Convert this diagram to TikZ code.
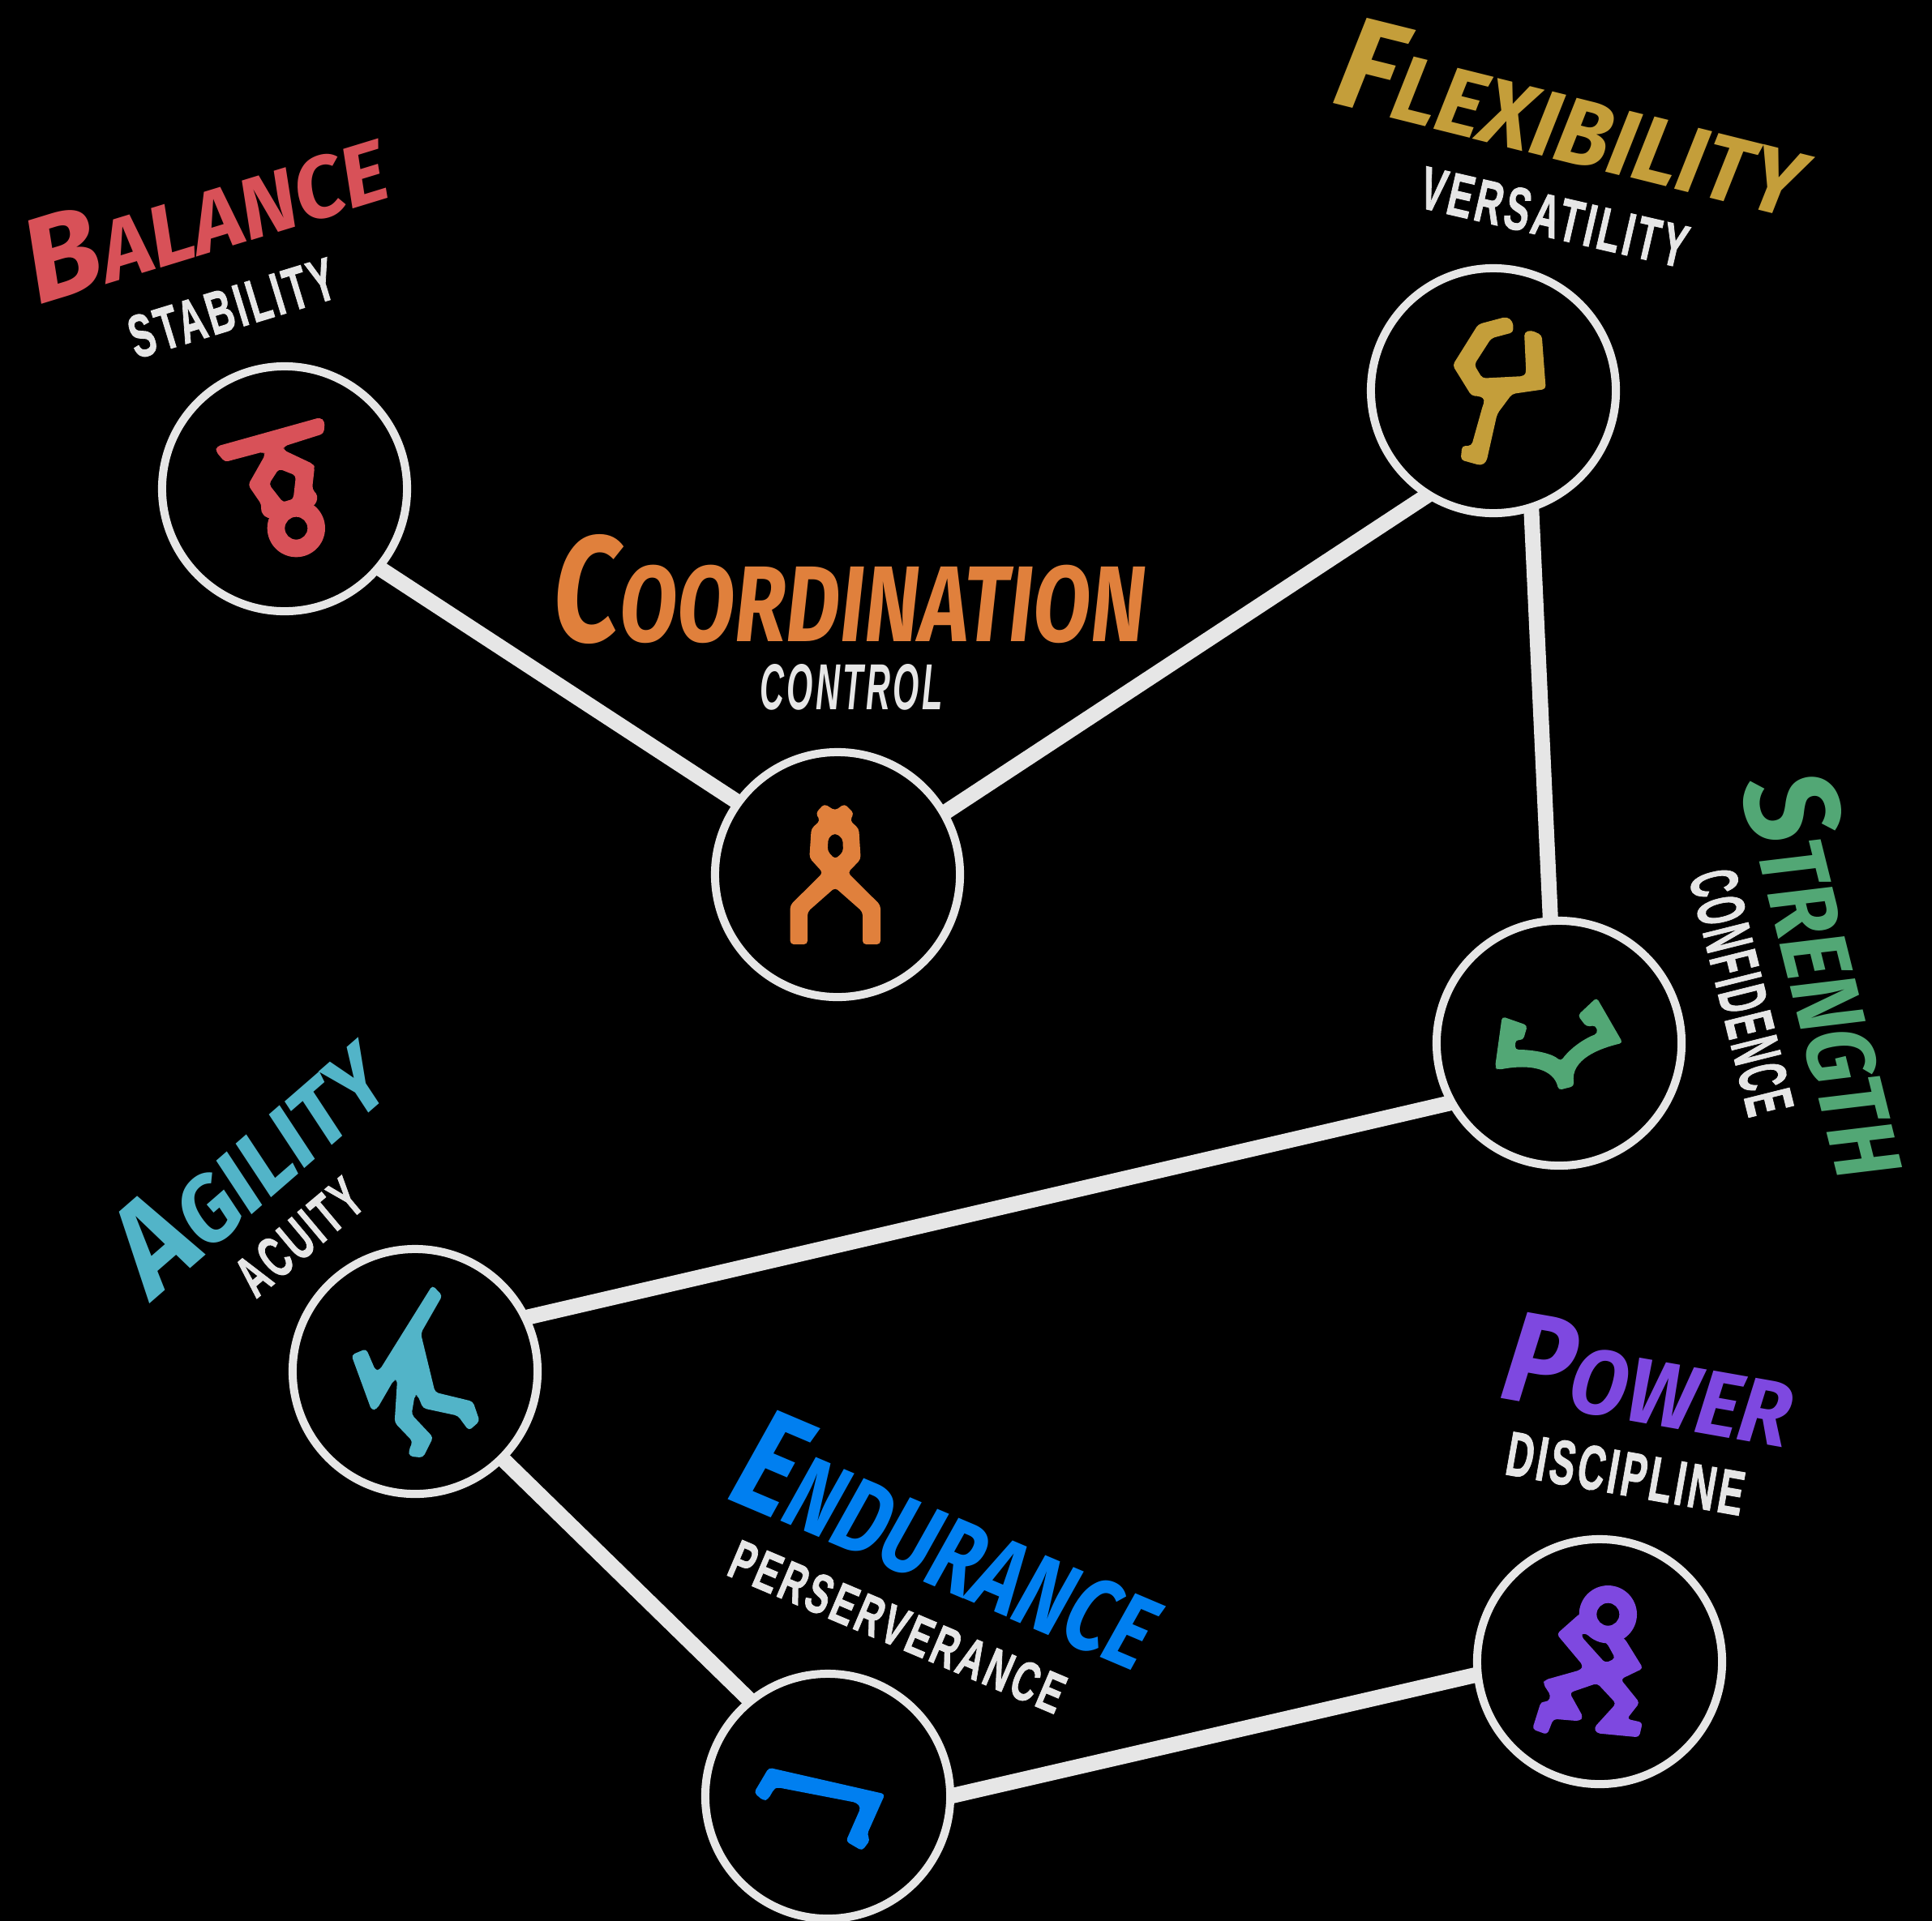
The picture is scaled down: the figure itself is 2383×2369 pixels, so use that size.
\documentclass[tikz,border=0pt]{standalone}
\usepackage{fontspec}
\usepackage{graphicx}
\newfontfamily\brushfont{Fira Sans}
\newfontfamily\capsfont[LetterSpace=8,BoldFeatures={FakeBold=1.5}]{Liberation Sans}
\definecolor{ringgray}{HTML}{E6E6E6}
\definecolor{balancered}{HTML}{D85158}
\definecolor{coordorange}{HTML}{E0803C}
\definecolor{flexgold}{HTML}{C49E3A}
\definecolor{strengthgreen}{HTML}{52A775}
\definecolor{agilityteal}{HTML}{52B4C8}
\definecolor{endurblue}{HTML}{007FF0}
\definecolor{powerpurple}{HTML}{7E48E0}
\newcommand{\firstcap}[1]{{\fontsize{14}{14}\selectfont #1}}
\newcommand{\titletext}[4]{\resizebox{#1cm}{#2cm}{\brushfont\bfseries\itshape\firstcap{#3}#4}}
\newcommand{\subtext}[3]{\resizebox{#1cm}{#2cm}{\capsfont\bfseries #3}}
\tikzset{
	ringnode/.style={circle,draw=ringgray,fill=black,line width=0.1cm,minimum size=3.02cm,inner sep=0pt,outer sep=0pt},
	linkline/.style={draw=ringgray,line width=0.19cm},
	labelnode/.style={inner sep=0pt,outer sep=0pt},
	iconfill/.style={fill=#1,even odd rule,rounded corners=1.2pt}
}
\begin{document}
\begin{tikzpicture}[x=0.01cm,y=-0.01cm]
	\useasboundingbox (0,0) rectangle (2383,2369);
	\fill[black] (-20,-20) rectangle (2403,2389);
	
	\node[ringnode] (balance) at (351,603) {};
	\node[ringnode] (coordination) at (1033,1079) {};
	\node[ringnode] (flexibility) at (1842,482) {};
	\node[ringnode] (strength) at (1923,1287) {};
	\node[ringnode] (agility) at (512,1692) {};
	\node[ringnode] (endurance) at (1021,2216) {};
	\node[ringnode] (power) at (1973,2050) {};
	
	\draw[linkline] (balance.-40.3)--(coordination.144.2);
	\draw[linkline] (coordination.30.8)--(flexibility.238.8);
	\draw[linkline] (flexibility.-72.4)--(strength.94.8);
	\draw[linkline] (strength.209.5)--(agility.26.6);
	\draw[linkline] (agility.-45.5)--(endurance.129.5);
	\draw[linkline] (endurance.0.7)--(power.186.6);
	
	\node[labelnode,rotate=17,text=balancered] (balancetitle) at (252,261) {\titletext{4.58}{1.03}{B}{ALANCE}};
	\node[labelnode,rotate=17,text=ringgray] (balancesub) at (286,380) {\subtext{2.62}{0.52}{STABILITY}};
	\node[labelnode,text=coordorange] (coordtitle) at (1048,727) {\titletext{7.30}{1.32}{C}{OORDINATION}};
	\node[labelnode,text=ringgray] (coordsub) at (1050,848) {\subtext{2.25}{0.56}{\itshape CONTROL}};
	\node[labelnode,rotate=-14,text=flexgold] (flextitle) at (1940,144) {\titletext{5.90}{1.12}{F}{LEXIBILITY}};
	\node[labelnode,rotate=-13,text=ringgray] (flexsub) at (1917,268) {\subtext{3.36}{0.52}{VERSATILITY}};
	\node[labelnode,rotate=-76,text=strengthgreen] (strengthtitle) at (2262,1201) {\titletext{5.05}{1.15}{S}{TRENGTH}};
	\node[labelnode,rotate=-76,text=ringgray] (strengthsub) at (2148,1224) {\subtext{3.08}{0.58}{CONFIDENCE}};
	\node[labelnode,rotate=41,text=agilityteal] (agilitytitle) at (304,1433) {\titletext{3.95}{1.10}{A}{GILITY}};
	\node[labelnode,rotate=40,text=ringgray] (agilitysub) at (369,1526) {\subtext{1.80}{0.50}{ACUITY}};
	\node[labelnode,rotate=-23,text=endurblue] (endurtitle) at (1172,1899) {\titletext{5.50}{1.25}{E}{NDURANCE}};
	\node[labelnode,rotate=-23,text=ringgray] (endursub) at (1107,2007) {\subtext{4.42}{0.48}{PERSERVERANCE}};
	\node[labelnode,rotate=-10,text=powerpurple] (powertitle) at (2034,1702) {\titletext{3.60}{1.10}{P}{OWER}};
	\node[labelnode,rotate=-10,text=ringgray] (powersub) at (2005,1818) {\subtext{2.96}{0.54}{DISCIPLINE}};
	
	\begin{scope}[shift={(190,440)},scale=1/3]
		\fill[iconfill=balancered] (232,332)--(615,225)--(632,240)--(628,285)--(480,332)--(478,345)--(590,398)--(594,410)--(585,490)--(607,515)--(597,550)--(420,600)--(395,575)--(398,548)--(348,475)--(412,362)--(405,352)--(262,390)--(228,350)--cycle (462,415)--(525,440)--(515,528)--(478,540)--(425,472)--cycle;
		\fill[balancered,even odd rule] (526,635) circle (107) (526,635) circle (42);
	\end{scope}
	\begin{scope}[shift={(870,915)},scale=1/3]
		\fill[iconfill=coordorange] (440,230)--(480,255)--(515,230)--(550,265)--(535,292)--(568,322)--(575,435)--(527,485)--(648,605)--(648,750)--(582,750)--(582,630)--(480,540)--(378,630)--(378,750)--(314,750)--(314,605)--(435,485)--(385,430)--(392,322)--(425,292)--(408,265)--cycle (480,338)--(508,358)--(510,408)--(480,435)--(452,405)--(455,355)--cycle;
	\end{scope}
	\begin{scope}[shift={(1680,320)},scale=1/3]
		\fill[iconfill=flexgold] (535,212)--(558,230)--(560,270)--(478,292)--(415,390)--(445,440)--(600,432)--(607,420)--(600,270)--(625,262)--(665,280)--(680,480)--(555,498)--(500,572)--(460,750)--(440,763)--(365,742)--(370,690)--(405,690)--(447,540)--(455,520)--(440,507)--(405,505)--(335,392)--(430,240)--cycle;
	\end{scope}
	\begin{scope}[shift={(1760,1130)},scale=1/3]
		\fill[iconfill=strengthgreen] (278,372)--(372,405)--(356,460)--(328,458)--(326,495) .. controls (400,495) and (465,510) .. (495,538) .. controls (530,490) and (580,455) .. (632,435)--(625,405)--(590,410)--(558,368)--(628,302)--(725,470) .. controls (640,490) and (530,530) .. (545,630)--(487,645) .. controls (470,570) and (390,545) .. (262,570)--(252,560)--cycle;
	\end{scope}
	\begin{scope}[shift={(355,1535)},scale=1/3]
		\fill[iconfill=agilityteal] (535,152)--(572,190)--(492,330)--(545,548)--(685,582)--(710,655)--(670,690)--(640,650)--(630,635)--(500,607)--(480,558)--(470,558)--(458,630)--(538,715)--(500,790)--(450,785)--(447,765)--(462,730)--(395,660)--(405,500)--(392,503)--(330,610)--(310,615)--(235,410)--(290,387)--(325,468)--(340,465)--cycle;
	\end{scope}
	\begin{scope}[shift={(860,2050)},scale=1/3]
		\fill[iconfill=endurblue] (265,392)--(695,490)--(628,640)--(640,660)--(610,700)--(550,665)--(605,540)--(590,522)--(295,465)--(285,470)--(262,510)--(245,515)--(210,485)--cycle;
	\end{scope}
	\begin{scope}[shift={(1810,1890)},scale=1/3]
		\fill[iconfill=powerpurple] (418,300)--(330,378)--(428,495)--(420,510)--(285,548)--(280,562)--(308,605)--(300,628)--(272,628)--(240,730)--(295,750)--(318,692)--(415,700)--(428,685)--(378,595)--(480,560)--(550,635)--(468,725)--(478,745)--(635,760)--(648,705)--(590,692)--(637,632)--(567,545)--(650,505)--(582,395)--cycle (428,372)--(450,385)--(515,410)--(547,468)--(510,485)--(420,385)--cycle;
		\fill[powerpurple,even odd rule] (520,305) circle (107) (520,305) circle (42);
	\end{scope}
\end{tikzpicture}
\end{document}
